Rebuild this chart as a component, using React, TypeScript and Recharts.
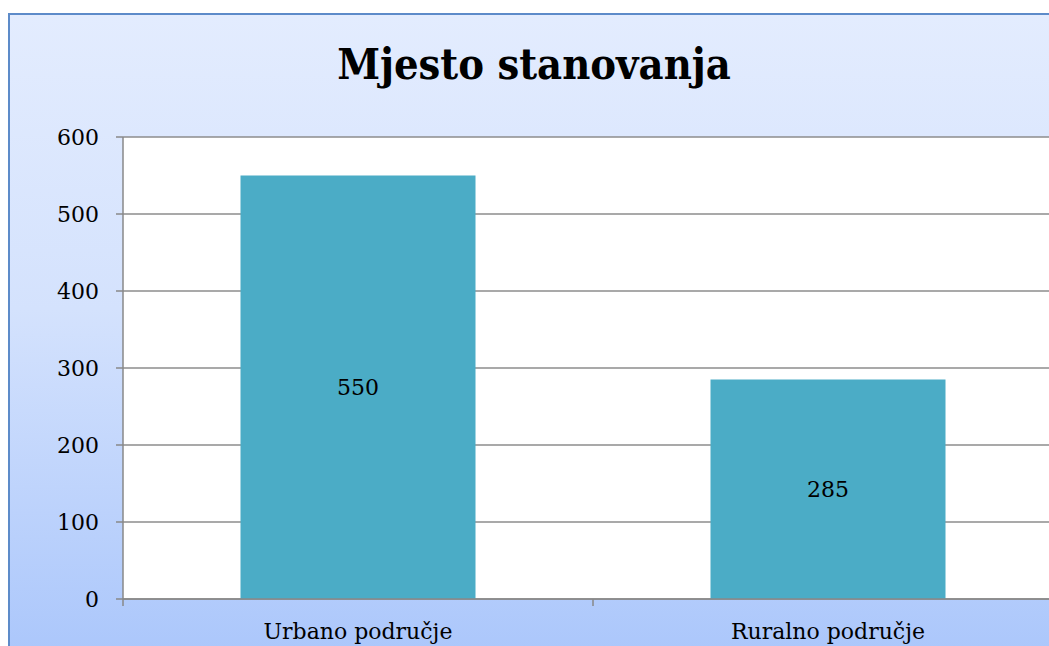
import { BarChart, Bar, XAxis, YAxis, CartesianGrid, LabelList } from "recharts";

const categories = ["Urbano područje", "Ruralno područje"];
const values = [550, 285];
const yTicks = [0, 100, 200, 300, 400, 500, 600];

const data = categories.map((name, i) => ({ name, value: values[i] }));

const FONT = "'DejaVu Serif', serif";
const BAND = 470;

function CategoryTick(props: any) {
  const { x, y, payload } = props;
  const left = x - BAND / 2;
  return (
    <g>
      <line x1={left} y1={y - 8} x2={left} y2={y - 1} stroke="#888" strokeWidth={1.5} />
      <text x={x} y={y + 32} textAnchor="middle" fontSize={22} fontFamily={FONT} fill="#000">
        {payload.value}
      </text>
    </g>
  );
}

export default function App() {
  return (
    <div style={{ position: "fixed", left: 0, top: 0, width: 1049, height: 646, overflow: "hidden", background: "#fff" }}>
      <div
        style={{
          position: "absolute",
          left: 8,
          top: 13,
          width: 1100,
          height: 700,
          borderLeft: "2px solid #5d8bc9",
          borderTop: "2px solid #5d8bc9",
          background: "linear-gradient(to bottom, #e3ecfe 0%, #d4e2fd 42%, #a4c2fb 100%)",
        }}
      />
      <div
        style={{
          position: "absolute",
          left: 8,
          top: 36,
          width: 1052,
          textAlign: "center",
          fontFamily: "'DejaVu Serif Condensed', 'DejaVu Serif', serif",
          fontWeight: "bold",
          fontSize: 43,
          lineHeight: "56px",
          color: "#000",
        }}
      >
        Mjesto stanovanja
      </div>
      <div style={{ position: "absolute", left: 8, top: 8 }}>
        <BarChart
          width={1100}
          height={700}
          data={data}
          margin={{ top: 129, right: 45, left: 0, bottom: 49 }}
          barCategoryGap="25%"
        >
          <CartesianGrid vertical={false} stroke="#8c8c8c" strokeWidth={1.5} fill="#fff" />
          <YAxis
            width={115}
            domain={[0, 600]}
            ticks={yTicks}
            interval={0}
            tickSize={7}
            tickMargin={17}
            axisLine={{ stroke: "#888", strokeWidth: 1.5 }}
            tickLine={{ stroke: "#888", strokeWidth: 1.5 }}
            tick={{ fontSize: 22, fontFamily: FONT, fill: "#000" }}
          />
          <XAxis
            dataKey="name"
            height={60}
            interval={0}
            tickLine={false}
            axisLine={{ stroke: "#888", strokeWidth: 1.5 }}
            tick={<CategoryTick />}
          />
          <Bar dataKey="value" fill="#4bacc6" isAnimationActive={false}>
            <LabelList dataKey="value" position="center" fontSize={22} fontFamily={FONT} fill="#000" />
          </Bar>
        </BarChart>
      </div>
    </div>
  );
}
